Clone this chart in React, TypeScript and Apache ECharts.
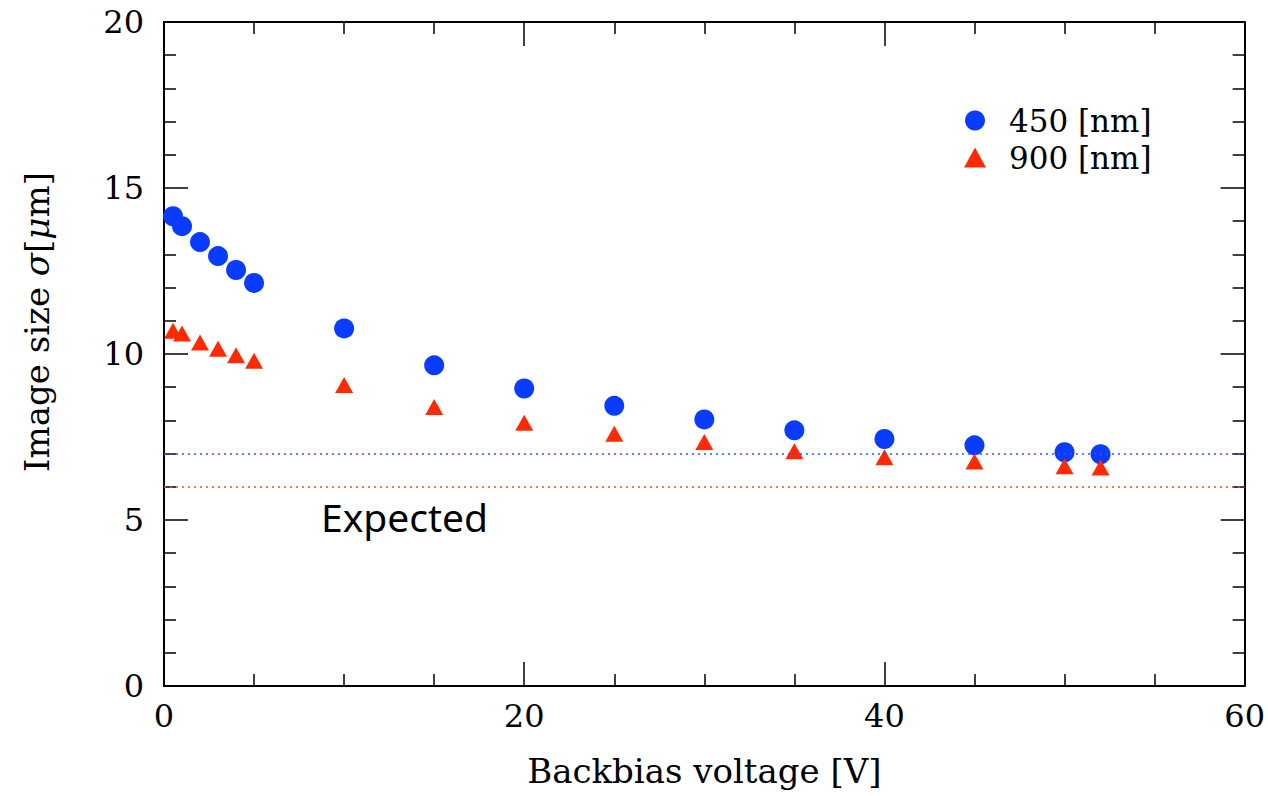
import React, { useEffect, useRef } from "react";
import * as echarts from "echarts";

const voltages = [0.5, 1, 2, 3, 4, 5, 10, 15, 20, 25, 30, 35, 40, 45, 50, 52];
const size450 = [14.15, 13.85, 13.37, 12.95, 12.53, 12.14, 10.77, 9.66, 8.96, 8.44, 8.03, 7.7, 7.44, 7.25, 7.04, 6.98];
const size900 = [10.7, 10.62, 10.35, 10.16, 9.96, 9.8, 9.07, 8.4, 7.93, 7.6, 7.35, 7.07, 6.89, 6.76, 6.62, 6.58];
const expected450 = 7;
const expected900 = 6;
const seriesNames = ["450 [nm]", "900 [nm]"];

const SERIF = "DejaVu Serif";
const BLUE = "#0a3cff";
const RED = "#ff2a00";

export default function App() {
  const ref = useRef<HTMLDivElement>(null);
  useEffect(() => {
    if (!ref.current) return;
    const chart = echarts.init(ref.current, undefined, { renderer: "svg" });
    const axisLine = { show: true, onZero: false, lineStyle: { color: "#000", width: 2 } };
    const xBase = {
      type: "value",
      min: 0,
      max: 60,
      interval: 20,
      axisLine,
      axisTick: { show: true, inside: true, length: 24, lineStyle: { color: "#000", width: 1.5 } },
      minorTick: { show: true, splitNumber: 4, length: 12, lineStyle: { color: "#000", width: 1.5 } },
      splitLine: { show: false },
      minorSplitLine: { show: false },
    };
    const yBase = {
      type: "value",
      min: 0,
      max: 20,
      interval: 5,
      axisLine,
      axisTick: { show: true, inside: true, length: 24, lineStyle: { color: "#000", width: 1.5 } },
      minorTick: { show: true, splitNumber: 5, length: 12, lineStyle: { color: "#000", width: 1.5 } },
      splitLine: { show: false },
      minorSplitLine: { show: false },
    };
    chart.setOption({
      animation: false,
      backgroundColor: "#fff",
      grid: { left: 164, right: 23, top: 22, bottom: 110, containLabel: false },
      legend: {
        orient: "vertical",
        left: 959,
        top: 100,
        itemWidth: 22,
        itemHeight: 20,
        itemGap: 6,
        textStyle: { fontFamily: SERIF, fontSize: 31, lineHeight: 31, color: "#000", padding: [0, 0, 0, 18] },
        data: [
          { name: seriesNames[0], icon: "circle" },
          { name: seriesNames[1], icon: "triangle" },
        ],
      },
      xAxis: [
        {
          ...xBase,
          position: "bottom",
          axisLabel: { show: true, fontFamily: SERIF, fontSize: 32, color: "#000", margin: 14 },
          name: "Backbias voltage [V]",
          nameLocation: "middle",
          nameGap: 68,
          nameTextStyle: { fontFamily: SERIF, fontSize: 34, color: "#000" },
        },
        { ...xBase, position: "top", axisLabel: { show: false } },
      ],
      yAxis: [
        {
          ...yBase,
          position: "left",
          axisLabel: { show: true, fontFamily: SERIF, fontSize: 32, color: "#000", margin: 20 },
          name: "Image size {i|σ}[{i|μ}m]",
          nameLocation: "middle",
          nameGap: 110,
          nameTextStyle: {
            fontFamily: SERIF,
            fontSize: 34,
            color: "#000",
            padding: [0, 0, 0, 64],
            rich: { i: { fontFamily: SERIF, fontStyle: "italic", fontSize: 34, color: "#000" } },
          },
        },
        { ...yBase, position: "right", axisLabel: { show: false } },
      ],
      graphic: [
        {
          type: "text",
          left: 321,
          top: 497,
          style: { text: "Expected", fontFamily: "Noto Sans", fontSize: 39, fill: "#000" },
        },
      ],
      series: [
        {
          name: seriesNames[0],
          type: "scatter",
          symbol: "circle",
          symbolSize: 20,
          itemStyle: { color: BLUE, opacity: 1 },
          data: voltages.map((v, i) => [v, size450[i]]),
          markLine: {
            silent: true,
            symbol: "none",
            label: { show: false },
            lineStyle: { color: "#3050ff", type: [2, 4], width: 1.5 },
            data: [{ yAxis: expected450 }],
          },
          z: 2,
        },
        {
          name: seriesNames[1],
          type: "scatter",
          symbol: "triangle",
          symbolSize: [18, 16],
          itemStyle: { color: RED, opacity: 1 },
          data: voltages.map((v, i) => [v, size900[i]]),
          markLine: {
            silent: true,
            symbol: "none",
            label: { show: false },
            lineStyle: { color: "#ff4030", type: [2, 4], width: 1.5 },
            data: [{ yAxis: expected900 }],
          },
          z: 3,
        },
      ],
    });
    return () => chart.dispose();
  }, []);
  return <div ref={ref} style={{ width: 1268, height: 796, position: "absolute", left: 0, top: 0 }} />;
}
